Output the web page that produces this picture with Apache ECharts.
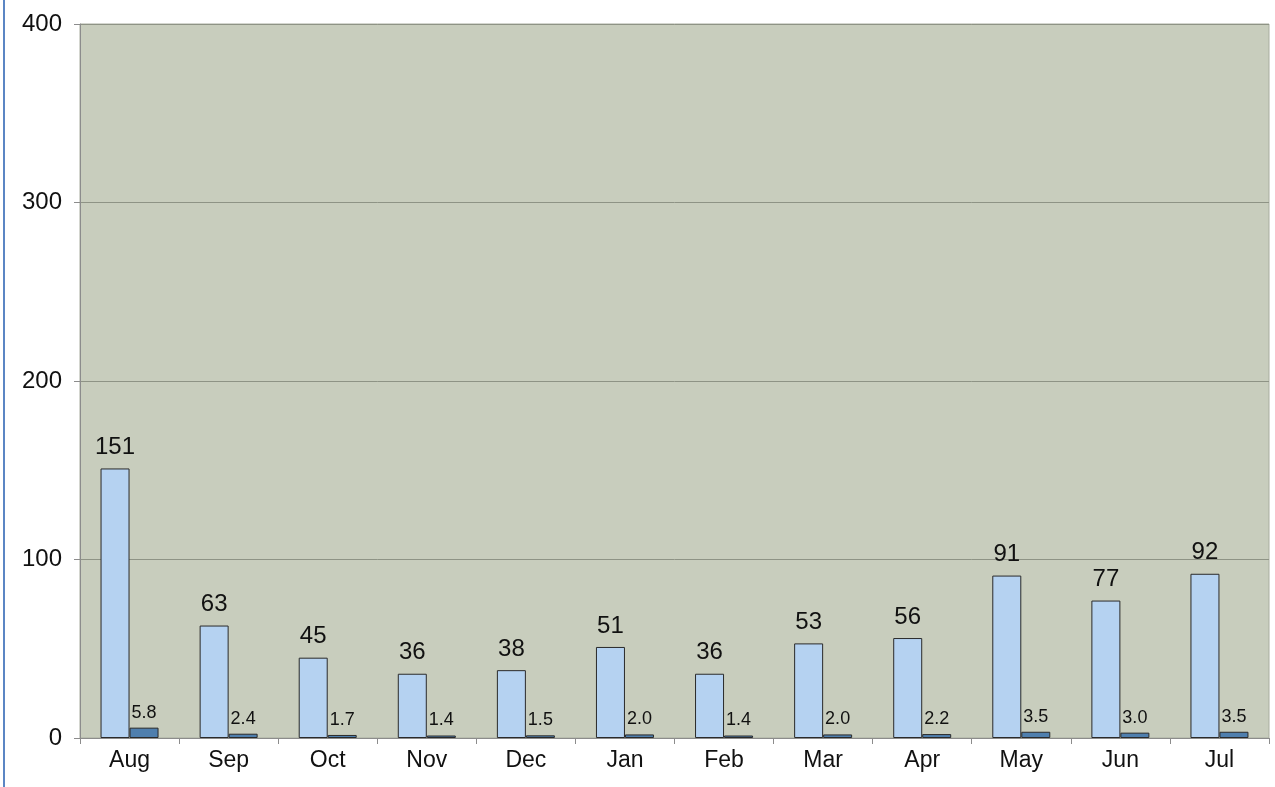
<!DOCTYPE html>
<html>
<head>
<meta charset="utf-8">
<script src="https://cdn.jsdelivr.net/npm/echarts@6/dist/echarts.min.js"></script>
<style>html,body{margin:0;padding:0;background:#fff;}#c{width:1275px;height:787px;}</style>
</head>
<body>
<div id="c"></div>
<script>
const categories = ['Aug','Sep','Oct','Nov','Dec','Jan','Feb','Mar','Apr','May','Jun','Jul'];
const seriesA = [151, 63, 45, 36, 38, 51, 36, 53, 56, 91, 77, 92];
const seriesB = [5.8, 2.4, 1.7, 1.4, 1.5, 2.0, 1.4, 2.0, 2.2, 3.5, 3.0, 3.5];
const yTicks = [0, 100, 200, 300, 400];

const chart = echarts.init(document.getElementById('c'), null, {renderer: 'canvas'});
const font = '"Liberation Sans", Arial, sans-serif';
chart.setOption({
  animation: false,
  backgroundColor: '#ffffff',
  grid: {
    left: 80, right: 6, top: 24, bottom: 49,
    show: true, backgroundColor: '#c8cdbd', borderColor: '#a9ad9f', borderWidth: 1
  },
  graphic: [{
    type: 'line', shape: {x1: 4, y1: 0, x2: 4, y2: 787},
    style: {stroke: '#5b86c4', lineWidth: 2}
  }],
  xAxis: {
    type: 'category', data: categories,
    axisLine: {show: true, lineStyle: {color: '#8c8c8c', width: 1}},
    axisTick: {show: true, length: 6, lineStyle: {color: '#8c8c8c'}},
    axisLabel: {color: '#111', fontSize: 23, fontFamily: font, margin: 11}
  },
  yAxis: {
    type: 'value', min: yTicks[0], max: yTicks[yTicks.length - 1], interval: 100,
    axisLine: {show: true, lineStyle: {color: '#8c8c8c'}},
    axisTick: {show: true, length: 6, lineStyle: {color: '#8c8c8c'}},
    axisLabel: {color: '#111', fontSize: 24, fontFamily: font, margin: 18},
    splitLine: {show: true, lineStyle: {color: '#8e9385', width: 1}}
  },
  series: [{
    type: 'bar', data: seriesA, barWidth: 29, barGap: '0%',
    itemStyle: {color: '#b5d2f1', borderColor: '#2a2a2a', borderWidth: 1},
    label: {show: true, position: 'top', distance: 9, color: '#111', fontSize: 24, fontFamily: font}
  }, {
    type: 'bar', data: seriesB, barWidth: 29,
    itemStyle: {color: '#4f7fae', borderColor: '#2a2a2a', borderWidth: 1},
    label: {show: true, position: 'top', distance: 6, color: '#111', fontSize: 18, fontFamily: font,
      formatter: p => p.value.toFixed(1)}
  }]
});
</script>
</body>
</html>
